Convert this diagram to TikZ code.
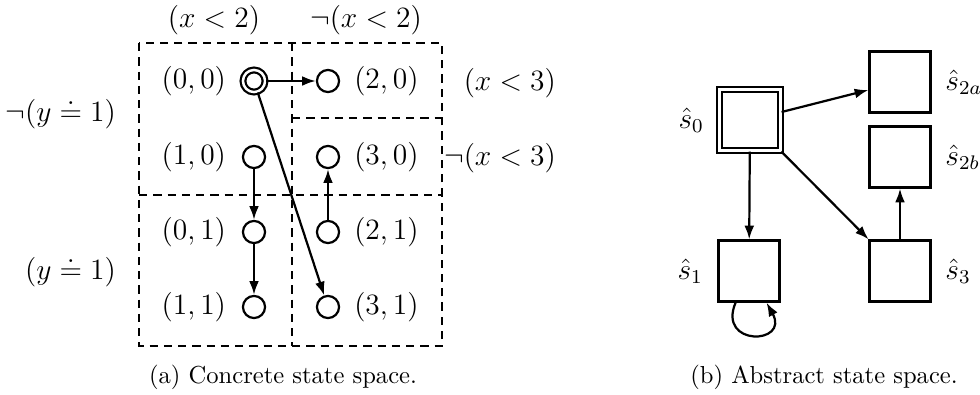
\documentclass[tikz,border=0pt]{standalone}
\usepackage{amsmath}
\usetikzlibrary{positioning,arrows.meta}

\begin{document}
\begin{tikzpicture}[x=0.407pt,y=-0.407pt, line width=0.9pt,
    >={Latex[length=5.6pt,width=4pt]},
    state/.style={circle, draw, minimum size=9pt, inner sep=0pt},
    initstate/.style={state, double, double distance=1pt},
    absstate/.style={rectangle, draw, minimum size=24.8pt, inner sep=0pt},
    absinit/.style={absstate, double, double distance=1pt},
    region/.style={dash pattern=on 3.4pt off 2.4pt},
    lbl/.style={inner sep=0pt, font=\large},
  ]
  \useasboundingbox (0,0) rectangle (980,394);

  % concrete state space: regions
  \draw[region] (139,43) rectangle (442,346);
  \draw[region] (292,43) -- (292,346);
  \draw[region] (139,195) -- (442,195);
  \draw[region] (292,118) -- (442,118);

  \node[lbl] (xlt2) at (214,20) {$(x<2)$};
  \node[lbl] (nxlt2) at (366,20) {$\neg(x<2)$};
  \node[lbl, anchor=east] (xlt3) at (557,83) {$(x<3)$};
  \node[lbl, anchor=east] (nxlt3) at (557,158) {$\neg(x<3)$};
  \node[lbl, anchor=east] (nyeq1) at (117,114) {$\neg(y\doteq 1)$};
  \node[lbl, anchor=east] (yeq1) at (117,272) {$(y\doteq 1)$};

  % concrete states
  \node[initstate] (c00) at (254,81) {};
  \node[state] (c20) at (328,81) {};
  \node[state] (c10) at (254,157) {};
  \node[state] (c30) at (328,157) {};
  \node[state] (c01) at (254,232) {};
  \node[state] (c21) at (328,232) {};
  \node[state] (c11) at (254,307) {};
  \node[state] (c31) at (328,307) {};

  \node[lbl, left=6pt of c00] (l00) {$(0,0)$};
  \node[lbl, right=5.3pt of c20] (l20) {$(2,0)$};
  \node[lbl, left=6pt of c10] (l10) {$(1,0)$};
  \node[lbl, right=5.3pt of c30] (l30) {$(3,0)$};
  \node[lbl, left=6pt of c01] (l01) {$(0,1)$};
  \node[lbl, right=5.3pt of c21] (l21) {$(2,1)$};
  \node[lbl, left=6pt of c11] (l11) {$(1,1)$};
  \node[lbl, right=5.3pt of c31] (l31) {$(3,1)$};

  \draw[->] (c00) -- (c20);
  \draw[->] (c00) -- (c31);
  \draw[->] (c10) -- (c01);
  \draw[->] (c01) -- (c11);
  \draw[->] (c21) -- (c30);

  % abstract state space
  \node[absinit] (s0) at (750,120) {};
  \node[absstate] (s2a) at (900,82) {};
  \node[absstate] (s2b) at (900,157) {};
  \node[absstate] (s1) at (749,271) {};
  \node[absstate] (s3) at (900,271) {};

  \node[lbl, left=5.5pt of s0] (ls0) {$\hat{s}_0$};
  \node[lbl, right=5.2pt of s2a] (ls2a) {$\hat{s}_{2a}$};
  \node[lbl, right=5.2pt of s2b] (ls2b) {$\hat{s}_{2b}$};
  \node[lbl, left=5.5pt of s1] (ls1) {$\hat{s}_1$};
  \node[lbl, right=5.2pt of s3] (ls3) {$\hat{s}_3$};

  \draw[->] (s0) -- (s2a);
  \draw[->] (s0) -- (s1);
  \draw[->] (s0) -- (s3);
  \draw[->] (s3) -- (s2b);
  \draw[->] (s1) to[out=-113, in=-61, looseness=4] (s1);

  % captions
  \node (capa) at (283,377) {(a) Concrete state space.};
  \node (capb) at (824,377) {(b) Abstract state space.};
\end{tikzpicture}
\end{document}
